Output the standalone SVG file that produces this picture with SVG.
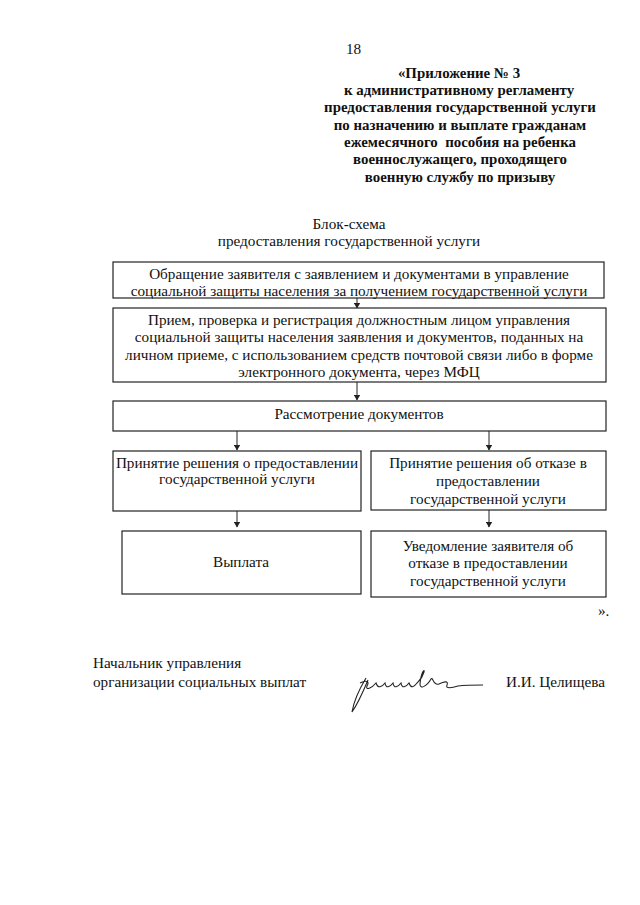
<svg xmlns="http://www.w3.org/2000/svg" width="640" height="905" viewBox="0 0 640 905">
<defs>
<style>
.t{font-family:"Liberation Serif","Times New Roman","DejaVu Serif",serif;font-size:15.2px;fill:#111;text-anchor:middle}
.h{font-family:"Liberation Serif","Times New Roman","DejaVu Serif",serif;font-size:14.9px;font-weight:bold;fill:#111;text-anchor:middle;white-space:pre}
.l{font-family:"Liberation Serif","Times New Roman","DejaVu Serif",serif;font-size:15.2px;fill:#111}
.box{fill:#fff;stroke:#222;stroke-width:1.2}
.c{stroke:#222;stroke-width:1;fill:none;marker-end:url(#ah)}
</style>
<marker id="ah" markerWidth="6" markerHeight="7" refX="5.5" refY="3.5" orient="auto" markerUnits="userSpaceOnUse" viewBox="0 0 6 7">
<path d="M0,0 L6,3.5 L0,7 Z" fill="#222"/>
</marker>
</defs>
<rect width="640" height="905" fill="#fff"/>

<g id="header">
<text class="l" x="346" y="54" font-size="15.5">18</text>
<text class="h" x="459" y="78">«Приложение № 3</text>
<text class="h" x="459" y="95">к административному регламенту</text>
<text class="h" x="460" y="112">предоставления государственной услуги</text>
<text class="h" x="460" y="130">по назначению и выплате гражданам</text>
<text class="h" x="460" y="147">ежемесячного  пособия на ребенка</text>
<text class="h" x="460" y="164">военнослужащего, проходящего</text>
<text class="h" x="460" y="182">военную службу по призыву</text>
</g>

<g id="title">
<text class="t" x="349" y="229">Блок-схема</text>
<text class="t" x="349" y="246">предоставления государственной услуги</text>
</g>

<g id="n1">
<rect class="box" x="113" y="262" width="491" height="36"/>
<text class="t" x="359" y="279">Обращение заявителя с заявлением и документами в управление</text>
<text class="t" x="359" y="296">социальной защиты населения за получением государственной услуги</text>
</g>

<g id="n2">
<rect class="box" x="113" y="308" width="493" height="74"/>
<text class="t" x="359" y="325">Прием, проверка и регистрация должностным лицом управления</text>
<text class="t" x="359" y="342">социальной защиты населения заявления и документов, поданных на</text>
<text class="t" x="359" y="360">личном приеме, с использованием средств почтовой связи либо в форме</text>
<text class="t" x="359" y="377">электронного документа, через МФЦ</text>
</g>

<g id="n3">
<rect class="box" x="113" y="401" width="493" height="30"/>
<text class="t" x="359" y="419">Рассмотрение документов</text>
</g>

<g id="n4">
<rect class="box" x="113" y="451" width="248" height="60"/>
<text class="t" x="237" y="468">Принятие решения о предоставлении</text>
<text class="t" x="237" y="484">государственной услуги</text>
</g>

<g id="n5">
<rect class="box" x="371" y="451" width="235" height="59"/>
<text class="t" x="488" y="468">Принятие решения об отказе в</text>
<text class="t" x="488" y="486">предоставлении</text>
<text class="t" x="488" y="504">государственной услуги</text>
</g>

<g id="n6">
<rect class="box" x="122" y="531" width="239" height="63"/>
<text class="t" x="241" y="567">Выплата</text>
</g>

<g id="n7">
<rect class="box" x="371" y="531" width="235" height="66"/>
<text class="t" x="488" y="551">Уведомление заявителя об</text>
<text class="t" x="488" y="568">отказе в предоставлении</text>
<text class="t" x="488" y="586">государственной услуги</text>
</g>

<g id="connectors">
<line class="c" x1="357" y1="298" x2="357" y2="308"/>
<line class="c" x1="357" y1="382" x2="357" y2="400"/>
<line class="c" x1="237" y1="431" x2="237" y2="450"/>
<line class="c" x1="489" y1="431" x2="489" y2="450"/>
<line class="c" x1="237" y1="511" x2="237" y2="527"/>
<line class="c" x1="489" y1="510" x2="489" y2="527"/>
</g>

<g id="footer">
<text class="l" x="598" y="616">».</text>
<text class="l" x="93" y="668">Начальник управления</text>
<text class="l" x="93" y="687">организации социальных выплат</text>
<text class="l" x="506" y="687">И.И. Целищева</text>
<path d="M366,678 C360,688 354,700 352,712 C357,705 363,692 368,680 M360,683 C366,680 370,681 367,686 C365,691 372,688 376,683 C378,689 382,687 385,683 C386,689 390,687 393,683 C394,689 398,687 401,683 C402,689 406,687 409,683 C411,689 414,687 417,683 C419,681 422,679 424,672 C425,668 421,672 420,684 C420,690 427,686 431,679 C433,676 433,686 439,684 C443,682 449,680 447,685 C445,689 452,688 458,686 C466,685 474,685 483,685" fill="none" stroke="#222" stroke-width="1.1"/>
</g>
</svg>
